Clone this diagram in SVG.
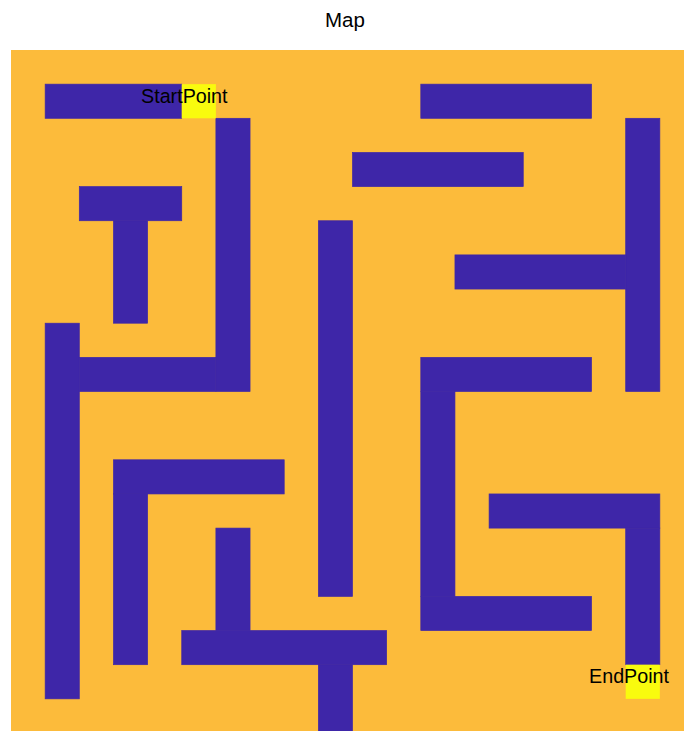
<svg xmlns="http://www.w3.org/2000/svg" width="684" height="731" viewBox="0 0 684 731">
<style>
.w{fill:#3E26A8;stroke:#3E26A8;stroke-width:0.02}
.p{fill:#F9FB0E}
.t{font-family:"Liberation Sans",Arial,sans-serif;fill:#000}
</style>
<rect width="684" height="731" fill="#FFFFFF"/>
<text class="t" x="345" y="26.5" font-size="20.5" text-anchor="middle">Map</text>
<g id="map" transform="translate(11,50) scale(34.15)">
<rect x="0" y="0" width="20" height="20" fill="#FCBB3B"/>
<g id="walls">
<rect class="w" x="1" y="1" width="4" height="1"/>
<rect class="w" x="6" y="2" width="1" height="8"/>
<rect class="w" x="2" y="9" width="4" height="1"/>
<rect class="w" x="2" y="4" width="3" height="1"/>
<rect class="w" x="3" y="5" width="1" height="3"/>
<rect class="w" x="1" y="8" width="1" height="11"/>
<rect class="w" x="12" y="1" width="5" height="1"/>
<rect class="w" x="10" y="3" width="5" height="1"/>
<rect class="w" x="9" y="5" width="1" height="11"/>
<rect class="w" x="18" y="2" width="1" height="8"/>
<rect class="w" x="13" y="6" width="5" height="1"/>
<rect class="w" x="12" y="9" width="5" height="1"/>
<rect class="w" x="12" y="10" width="1" height="6"/>
<rect class="w" x="12" y="16" width="5" height="1"/>
<rect class="w" x="3" y="12" width="5" height="1"/>
<rect class="w" x="3" y="13" width="1" height="5"/>
<rect class="w" x="6" y="14" width="1" height="3"/>
<rect class="w" x="5" y="17" width="6" height="1"/>
<rect class="w" x="9" y="18" width="1" height="2"/>
<rect class="w" x="14" y="13" width="5" height="1"/>
<rect class="w" x="18" y="14" width="1" height="4"/>
</g>
<g id="start"><rect class="p" x="5" y="1" width="1" height="1"/></g>
<g id="end"><rect class="p" x="18" y="18" width="1" height="1"/></g>
</g>
<text class="t" x="184.3" y="103.3" font-size="19.7" text-anchor="middle">StartPoint</text>
<text class="t" x="629" y="682.7" font-size="19.7" text-anchor="middle">EndPoint</text>
</svg>
